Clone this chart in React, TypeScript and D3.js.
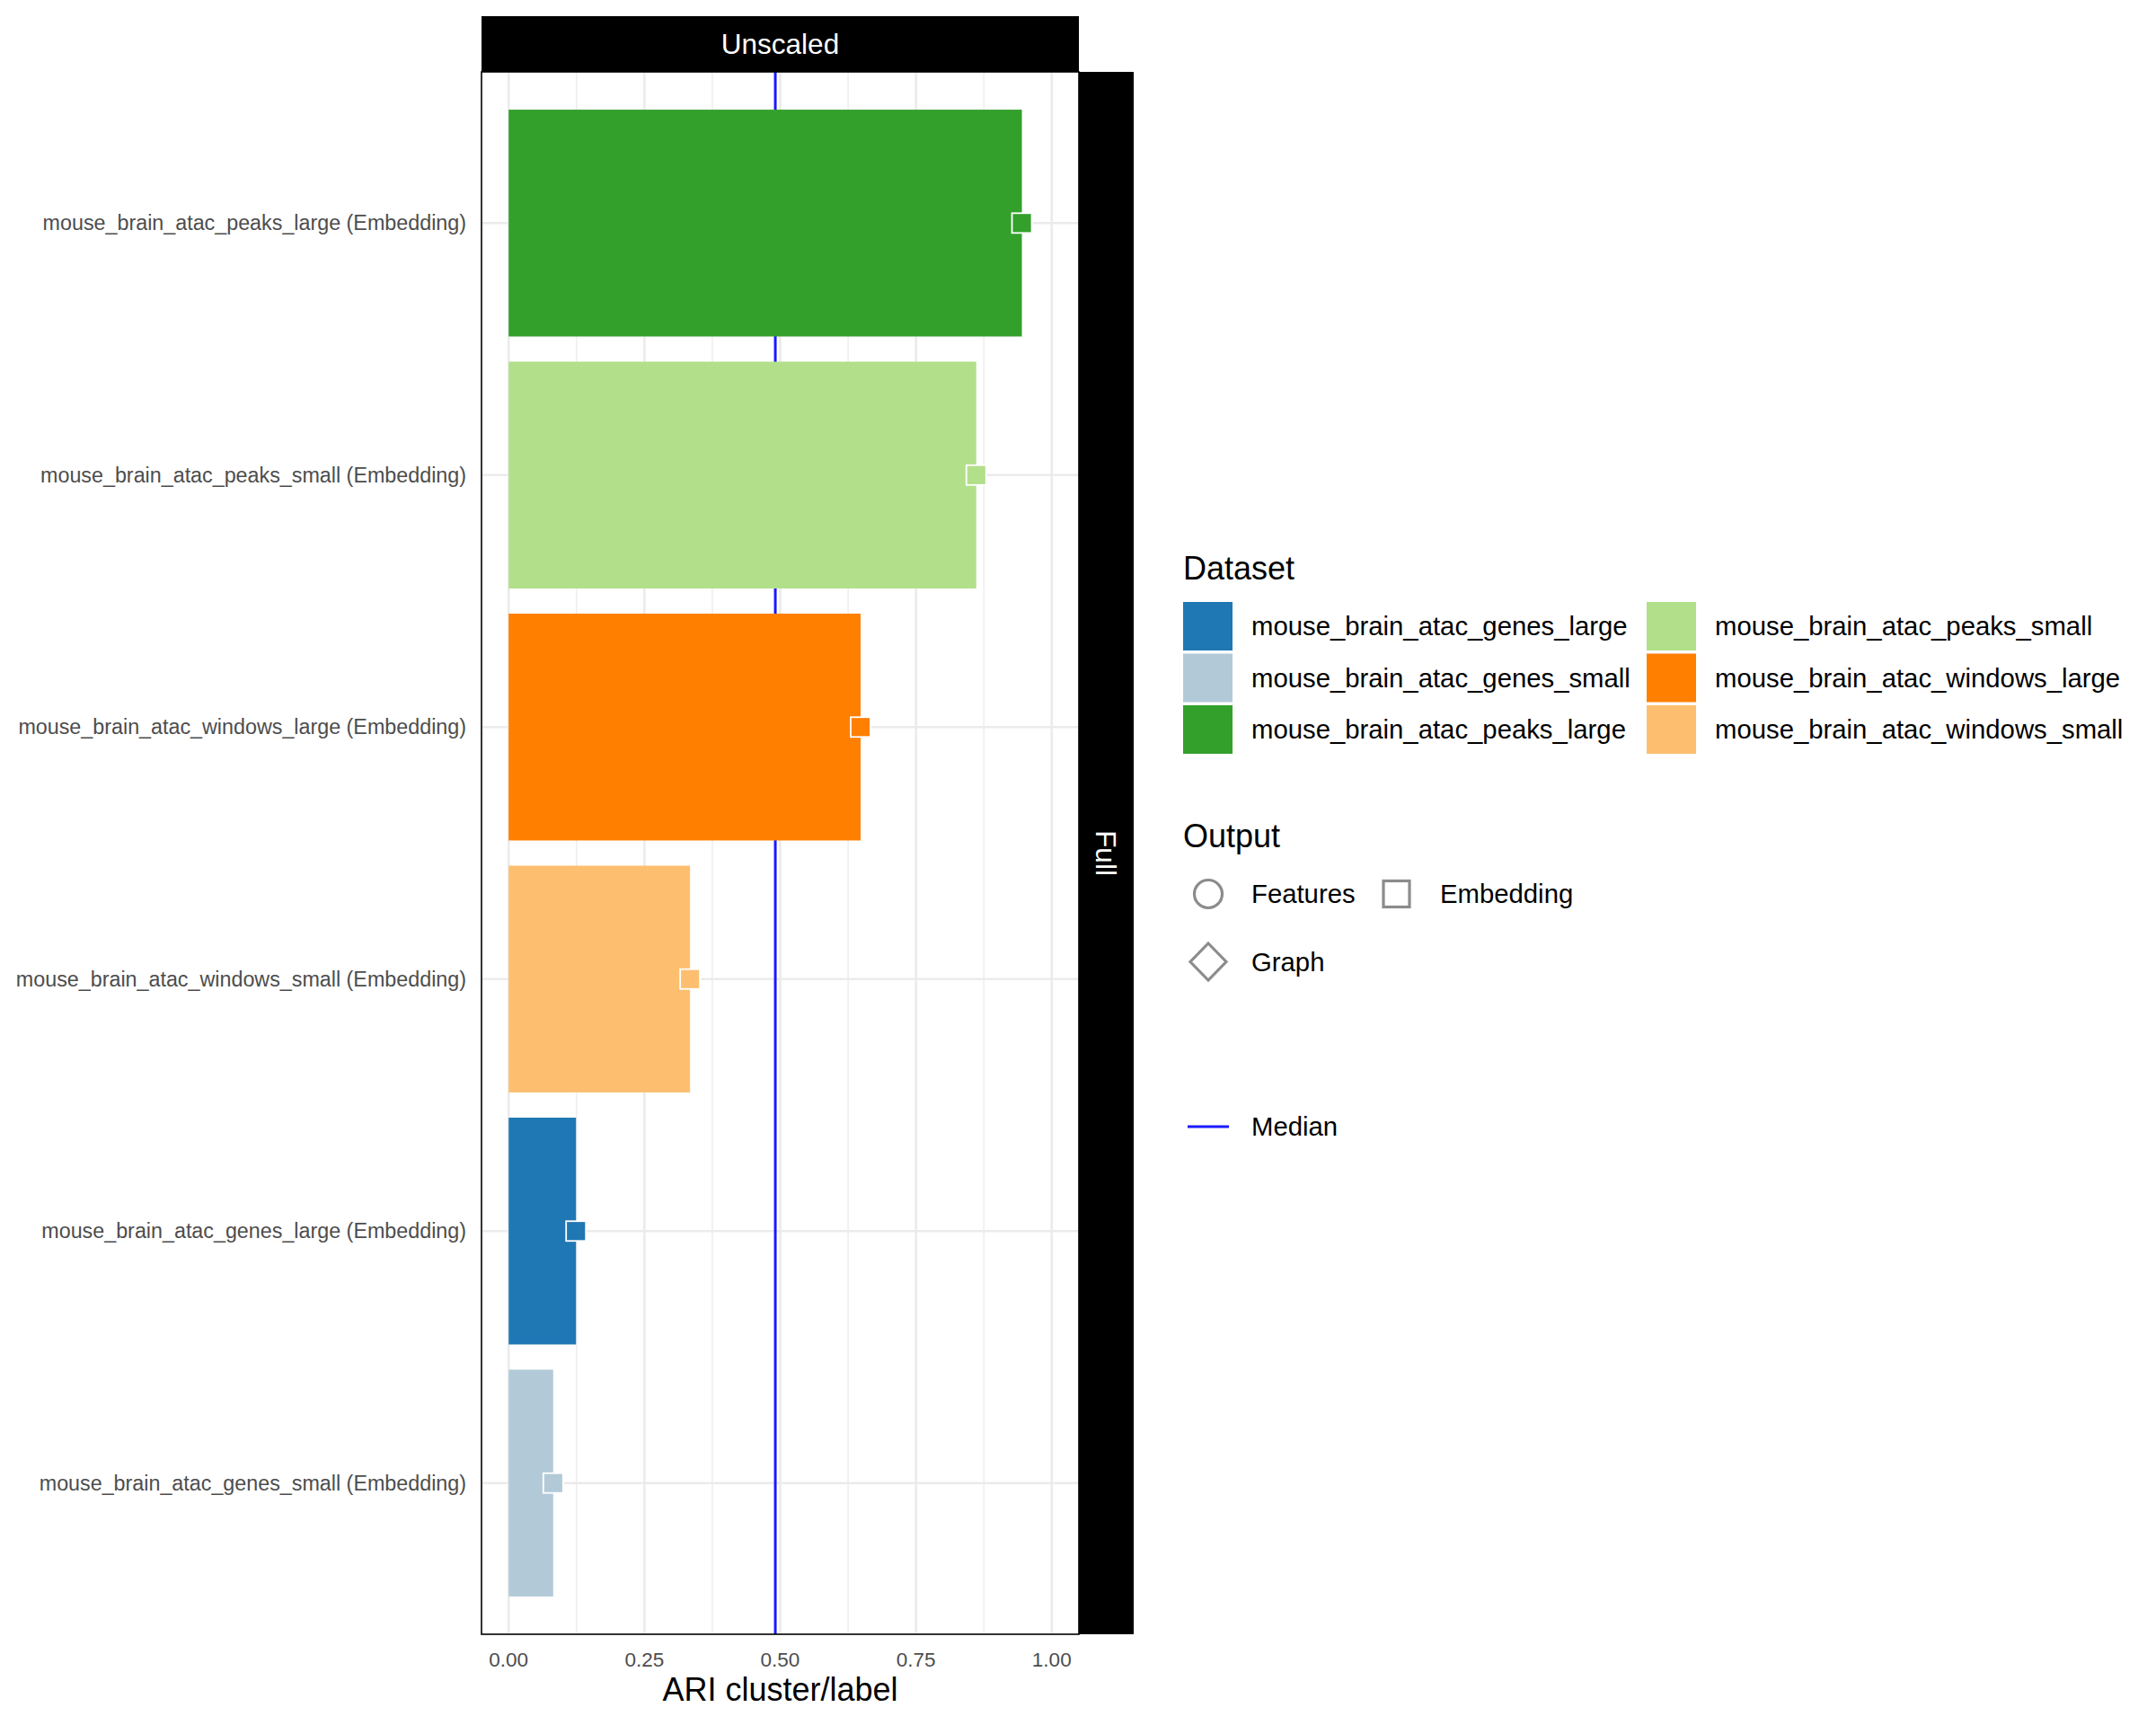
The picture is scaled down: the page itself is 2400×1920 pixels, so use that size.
import React from "react";
import * as d3 from "d3";

const categories = [
  "mouse_brain_atac_peaks_large",
  "mouse_brain_atac_peaks_small",
  "mouse_brain_atac_windows_large",
  "mouse_brain_atac_windows_small",
  "mouse_brain_atac_genes_large",
  "mouse_brain_atac_genes_small",
];
const outputType = ["Embedding", "Embedding", "Embedding", "Embedding", "Embedding", "Embedding"];
const ariValues = [0.945, 0.861, 0.648, 0.334, 0.124, 0.082];

const legendDatasets = [
  "mouse_brain_atac_genes_large",
  "mouse_brain_atac_genes_small",
  "mouse_brain_atac_peaks_large",
  "mouse_brain_atac_peaks_small",
  "mouse_brain_atac_windows_large",
  "mouse_brain_atac_windows_small",
];
const legendColors = ["#1F78B4", "#B2CAD8", "#33A02C", "#B2DF8A", "#FF7F00", "#FDBF6F"];
const outputLabels = ["Features", "Embedding", "Graph"];
const xTicks = [0, 0.25, 0.5, 0.75, 1.0];
const xMinor = [0.125, 0.375, 0.625, 0.875];

const FONT = "'Liberation Sans', Arial, Helvetica, sans-serif";

export default function App() {
  const left = 536, right = 1201, top = 80, bottom = 1819;
  const x = d3.scaleLinear().domain([-0.05, 1.05]).range([left, right]);
  const y = d3.scaleBand<string>().domain(categories).range([top, bottom]).paddingInner(0.1).paddingOuter(0.15);
  const color = d3.scaleOrdinal<string, string>().domain(legendDatasets).range(legendColors);
  const med = d3.median(ariValues) as number;
  const bw = y.bandwidth();
  const fmt = d3.format(".2f");
  const sq = 22;

  const legX = 1317;
  const keyW = 55, keyH = 54, keyStep = 57.5, keyTop = 670;

  return (
    <svg width={2400} height={1920} style={{ position: "absolute", left: 0, top: 0, background: "#fff" }} fontFamily={FONT}>
      <rect x={0} y={0} width={2400} height={1920} fill="#fff" />
      {/* grid */}
      {xMinor.map((v) => (
        <line key={"mi" + v} x1={x(v)} x2={x(v)} y1={top} y2={bottom} stroke="#EBEBEB" strokeWidth={1.3} />
      ))}
      {xTicks.map((v) => (
        <line key={"ma" + v} x1={x(v)} x2={x(v)} y1={top} y2={bottom} stroke="#EBEBEB" strokeWidth={2.6} />
      ))}
      {categories.map((c) => (
        <line key={"h" + c} x1={left} x2={right} y1={(y(c) as number) + bw / 2} y2={(y(c) as number) + bw / 2} stroke="#EBEBEB" strokeWidth={2.6} />
      ))}
      {/* median */}
      <line x1={x(med)} x2={x(med)} y1={top} y2={bottom} stroke="#1a1aff" strokeWidth={3} />
      {/* bars */}
      {categories.map((c, i) => (
        <rect key={"b" + c} x={x(0)} y={y(c) as number} width={x(ariValues[i]) - x(0)} height={bw} fill={color(c)} />
      ))}
      {/* points */}
      {categories.map((c, i) => (
        <rect key={"p" + c} x={x(ariValues[i]) - sq / 2} y={(y(c) as number) + bw / 2 - sq / 2} width={sq} height={sq} fill={color(c)} stroke="#fff" strokeWidth={1.8} />
      ))}
      {/* panel border */}
      <rect x={left} y={top} width={right - left} height={bottom - top} fill="none" stroke="#000" strokeWidth={1.6} />
      {/* strips */}
      <rect x={left} y={18} width={right - left} height={top - 18} fill="#000" />
      <text x={(left + right) / 2} y={(18 + top) / 2} dy="0.35em" textAnchor="middle" fill="#fff" fontSize={31.5}>Unscaled</text>
      <rect x={right} y={top} width={61} height={bottom - top} fill="#000" />
      <text transform={`translate(${right + 30.5},${(top + bottom) / 2}) rotate(90)`} dy="0.35em" textAnchor="middle" fill="#fff" fontSize={31.5}>Full</text>
      {/* y axis labels */}
      {categories.map((c, i) => (
        <text key={"yl" + c} x={left - 17} y={(y(c) as number) + bw / 2} dy="0.35em" textAnchor="end" fill="#4D4D4D" fontSize={23.3}>
          {`${c} (${outputType[i]})`}
        </text>
      ))}
      {/* x tick labels */}
      {xTicks.map((v) => (
        <text key={"xt" + v} x={x(v)} y={1855} textAnchor="middle" fill="#4D4D4D" fontSize={22.5}>{fmt(v)}</text>
      ))}
      <text x={(left + right) / 2} y={1893} textAnchor="middle" fill="#000" fontSize={36}>ARI cluster/label</text>

      {/* Dataset legend */}
      <text x={legX} y={645} fill="#000" fontSize={36}>Dataset</text>
      {legendDatasets.map((d, i) => {
        const col = Math.floor(i / 3);
        const row = i % 3;
        const kx = col === 0 ? legX : 1833;
        const ky = keyTop + row * keyStep;
        return (
          <g key={"lg" + d}>
            <rect x={kx} y={ky} width={keyW} height={keyH} fill={color(d)} />
            <text x={kx + 76} y={ky + keyH / 2} dy="0.35em" fill="#000" fontSize={29.3}>{d}</text>
          </g>
        );
      })}

      {/* Output legend */}
      <text x={legX} y={943} fill="#000" fontSize={36}>Output</text>
      <circle cx={1345} cy={995} r={15.5} fill="none" stroke="#8C8C8C" strokeWidth={3.2} />
      <text x={1393} y={995} dy="0.35em" fill="#000" fontSize={29.3}>{outputLabels[0]}</text>
      <rect x={1540} y={980.5} width={29} height={29} fill="none" stroke="#8C8C8C" strokeWidth={3.2} />
      <text x={1603} y={995} dy="0.35em" fill="#000" fontSize={29.3}>{outputLabels[1]}</text>
      <path d="M1345,1050 L1365,1070.5 L1345,1091 L1325,1070.5 Z" fill="none" stroke="#8C8C8C" strokeWidth={3.2} />
      <text x={1393} y={1070.5} dy="0.35em" fill="#000" fontSize={29.3}>{outputLabels[2]}</text>

      {/* Median legend */}
      <line x1={1322} x2={1368} y1={1254} y2={1254} stroke="#1a1aff" strokeWidth={3.2} />
      <text x={1393} y={1254} dy="0.35em" fill="#000" fontSize={29.3}>Median</text>
    </svg>
  );
}
